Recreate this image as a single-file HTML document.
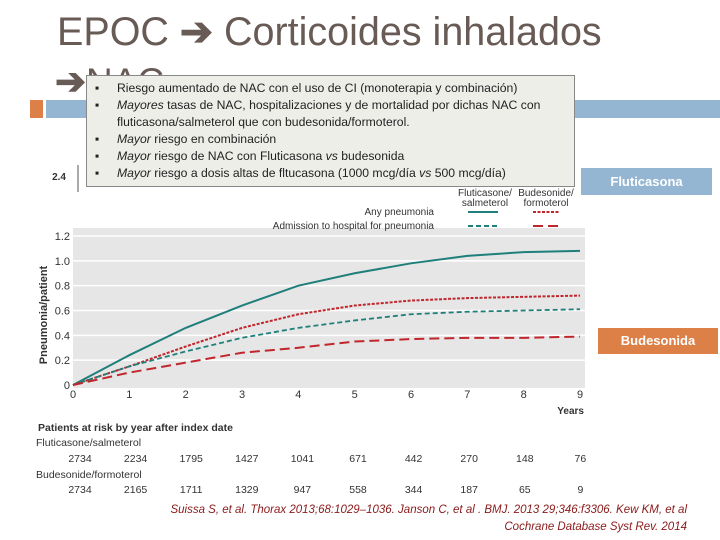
<!DOCTYPE html>
<html><head><meta charset="utf-8"><style>
body{margin:0;width:720px;height:540px;background:#fff;position:relative;overflow:hidden;font-family:"Liberation Sans",sans-serif}
.a{position:absolute}
</style></head><body>
<div class="a" style="left:57px;top:9px;font-size:39.5px;color:#685a55;white-space:nowrap">EPOC <span style="font-weight:bold">➔</span> Corticoides inhalados</div>
<div class="a" style="left:55px;top:60px;font-size:37px;color:#685a55"><b>➔</b>NAC</div>
<div class="a" style="left:30px;top:100px;width:13px;height:18px;background:#dd8047"></div>
<div class="a" style="left:46px;top:100px;width:674px;height:18px;background:#94b6d2"></div>

<svg class="a" style="left:0;top:0" width="720" height="540" id="ch"></svg>

<div class="a" style="left:86px;top:75px;width:487px;height:106px;background:#eeeee9;border:1px solid #888;font-size:12.2px;line-height:17px;color:#222;padding-top:4px;white-space:nowrap;overflow:hidden">
<div style="position:relative;padding-left:30px"><span style="position:absolute;left:8px">▪</span>Riesgo aumentado de NAC con el uso de CI (monoterapia y combinación)</div>
<div style="position:relative;padding-left:30px"><span style="position:absolute;left:8px">▪</span><i>Mayores</i> tasas de NAC, hospitalizaciones y de mortalidad por dichas NAC con<br>fluticasona/salmeterol que con budesonida/formoterol.</div>
<div style="position:relative;padding-left:30px"><span style="position:absolute;left:8px">▪</span><i>Mayor</i> riesgo en combinación</div>
<div style="position:relative;padding-left:30px"><span style="position:absolute;left:8px">▪</span><i>Mayor</i> riesgo de NAC con Fluticasona <i>vs</i> budesonida</div>
<div style="position:relative;padding-left:30px"><span style="position:absolute;left:8px">▪</span><i>Mayor</i> riesgo a dosis altas de fltucasona (1000 mcg/día <i>vs</i> 500 mcg/día)</div>
</div>
<div class="a" style="left:581px;top:168px;width:131px;height:27px;background:#94b6d2;color:#fff;font-size:13px;font-weight:bold;text-align:center;line-height:27px">Fluticasona</div>
<div class="a" style="left:598px;top:328px;width:120px;height:26px;background:#dd8047;color:#fff;font-size:13px;font-weight:bold;text-align:center;line-height:26px">Budesonida</div>
<div class="a" style="right:33px;top:502px;text-align:right;font-size:11.5px;line-height:17px;color:#8b1a1a;font-style:italic">Suissa S, et al. Thorax 2013;68:1029–1036. Janson C, et al . BMJ. 2013 29;346:f3306. Kew KM, et al<br>Cochrane Database Syst Rev. 2014</div>

<script>
const years=[0,1,2,3,4,5,6,7,8,9];
const fsAny=[0,0.24,0.46,0.64,0.80,0.90,0.98,1.04,1.07,1.08];
const bfAny=[0,0.15,0.31,0.46,0.57,0.64,0.68,0.70,0.71,0.72];
const fsHosp=[0,0.15,0.27,0.38,0.46,0.52,0.57,0.59,0.60,0.61];
const bfHosp=[0,0.10,0.18,0.26,0.30,0.35,0.37,0.38,0.38,0.39];
const yTicks=[0,0.2,0.4,0.6,0.8,1.0,1.2];
const yTickLabels=["0","0.2","0.4","0.6","0.8","1.0","1.2"];
const riskFS=[2734,2234,1795,1427,1041,671,442,270,148,76];
const riskBF=[2734,2165,1711,1329,947,558,344,187,65,9];
const NS="http://www.w3.org/2000/svg";
const svg=document.getElementById('ch');
const X=v=>73+v*(580-73)/9, Y=v=>385-v*(385-236)/1.2;
const RX=v=>80+v*55.6;
function mk(t,a,p){const e=document.createElementNS(NS,t);for(const k in a)e.setAttribute(k,a[k]);(p||svg).appendChild(e);return e;}
function txt(x,y,s,a){const e=mk('text',Object.assign({x:x,y:y,'font-family':'Liberation Sans, sans-serif','font-size':11,fill:'#333'},a||{}));e.textContent=s;return e;}
let r=mk('rect',{x:73,y:228,width:512,height:160,fill:'#e6e6e6'});

yTicks.forEach((t,i)=>{if(t>0){let l=mk('line',{x1:73,x2:585,y1:Y(t),y2:Y(t),stroke:'#fff','stroke-width':1.5});}
let tl=txt(70,Y(t)+4,yTickLabels[i],{'text-anchor':'end'});});
years.forEach(v=>{let tl=txt(X(v),398,String(v),{'text-anchor':'middle'});});
let yt=txt(0,0,'Pneumonia/patient',{transform:'translate(47,315) rotate(-90)','text-anchor':'middle','font-weight':'bold'});

let xt=txt(584,414,'Years',{'text-anchor':'end','font-weight':'bold','font-size':10});

let t24=txt(66,180,'2.4',{'text-anchor':'end','font-weight':'bold','font-size':10});
mk('line',{x1:78,x2:78,y1:165,y2:192,stroke:'#555'});
function series(d,color,dash,w,name){const pts=d.map((v,i)=>X(years[i])+','+Y(v)).join(' ');
let p=mk('polyline',{points:pts,fill:'none',stroke:color,'stroke-width':w,'stroke-dasharray':dash});
}
series(fsAny,'#1f7f7a','none',2,'line-fs-any');
series(bfAny,'#c0262c','3,1.5',2,'line-bf-any');
series(fsHosp,'#1f7f7a','5,3',1.8,'line-fs-hosp');
series(bfHosp,'#c0262c','10,5',2,'line-bf-hosp');
[['Fluticasone/',485,196],['salmeterol',485,206],['Budesonide/',546,196],['formoterol',546,206]].forEach(a=>{let e=txt(a[1],a[2],a[0],{'text-anchor':'middle','font-size':10});});
let l1=txt(434,215,'Any pneumonia',{'text-anchor':'end','font-size':10});
let l2=txt(434,229,'Admission to hospital for pneumonia',{'text-anchor':'end','font-size':10});
mk('line',{x1:468,x2:498,y1:212,y2:212,stroke:'#1f7f7a','stroke-width':2});
mk('line',{x1:533,x2:560,y1:212,y2:212,stroke:'#c0262c','stroke-width':2,'stroke-dasharray':'3,1.5'});
mk('line',{x1:468,x2:498,y1:226,y2:226,stroke:'#1f7f7a','stroke-width':2,'stroke-dasharray':'5,3'});
mk('line',{x1:533,x2:560,y1:226,y2:226,stroke:'#c0262c','stroke-width':2,'stroke-dasharray':'10,5'});
let h=txt(38,431,'Patients at risk by year after index date',{'font-weight':'bold','font-size':10.5});
let g1=txt(36,446,'Fluticasone/salmeterol',{'font-size':10.5});
let g2=txt(36,478,'Budesonide/formoterol',{'font-size':10.5});
riskFS.forEach((v,i)=>{let e=txt(RX(years[i]),462,String(v),{'text-anchor':'middle','font-size':10.5});});
riskBF.forEach((v,i)=>{let e=txt(RX(years[i]),493,String(v),{'text-anchor':'middle','font-size':10.5});});
</script>
</body></html>
